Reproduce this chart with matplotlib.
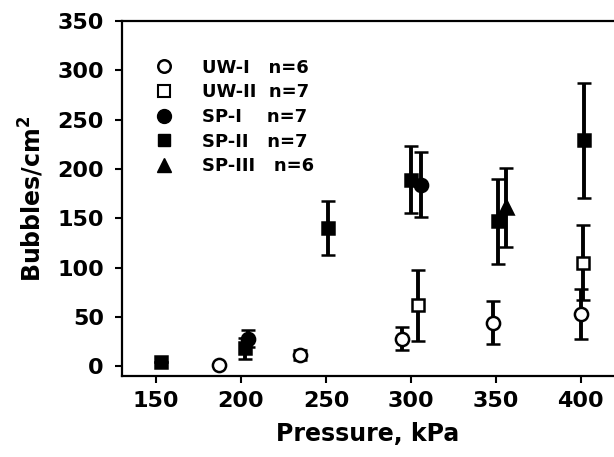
import numpy as np
import matplotlib
matplotlib.use('Agg')
import matplotlib.pyplot as plt
from matplotlib.lines import Line2D

# group data: x (pressure, plotted with small offsets), mean, error
uw1_x = [187, 235, 294.5, 348.5, 400]
uw1_y = [1, 11, 28, 44, 53]
uw1_e = [0, 5, 12, 22, 25]

uw2_x = [304, 401]
uw2_y = [62, 105]
uw2_e = [36, 38]

sp1_x = [204, 306]
sp1_y = [28, 184]
sp1_e = [9, 33]

sp2_x = [153, 202.5, 251.5, 300, 351.5, 402]
sp2_y = [4, 18, 140, 189, 147, 229]
sp2_e = [0, 11, 27, 34, 43, 58]

sp3_x = [356]
sp3_y = [161]
sp3_e = [40]

labels = ['UW-I   n=6', 'UW-II  n=7', 'SP-I    n=7', 'SP-II   n=7', 'SP-III   n=6']
xticks = [150, 200, 250, 300, 350, 400]
yticks = [0, 50, 100, 150, 200, 250, 300, 350]

plt.rcParams['font.family'] = 'DejaVu Sans'
plt.rcParams['font.weight'] = 'bold'

fig = plt.figure(figsize=(6.14, 4.57), dpi=100)
ax = fig.add_axes([0.1987, 0.1772, 0.8013, 0.7768])

ebkw = dict(ecolor='black', elinewidth=2.8, capsize=5, capthick=2.8,
            linestyle='none', markeredgecolor='black', markeredgewidth=1.8)

ax.errorbar(uw1_x, uw1_y, yerr=uw1_e, marker='o', markersize=9.5,
            markerfacecolor='white', **ebkw)
ax.errorbar(uw2_x, uw2_y, yerr=uw2_e, marker='s', markersize=9,
            markerfacecolor='white', **ebkw)
ax.errorbar(sp1_x, sp1_y, yerr=sp1_e, marker='o', markersize=9.5,
            markerfacecolor='black', **ebkw)
ax.errorbar(sp2_x, sp2_y, yerr=sp2_e, marker='s', markersize=9,
            markerfacecolor='black', **ebkw)
ax.errorbar(sp3_x, sp3_y, yerr=sp3_e, marker='^', markersize=9.5,
            markerfacecolor='black', **ebkw)

handles = [
    Line2D([], [], linestyle='none', marker='o', markersize=9, markerfacecolor='white',
           markeredgecolor='black', markeredgewidth=1.8),
    Line2D([], [], linestyle='none', marker='s', markersize=8.5, markerfacecolor='white',
           markeredgecolor='black', markeredgewidth=1.5),
    Line2D([], [], linestyle='none', marker='o', markersize=10, color='black'),
    Line2D([], [], linestyle='none', marker='s', markersize=9, color='black'),
    Line2D([], [], linestyle='none', marker='^', markersize=9.5, color='black'),
]
ax.legend(handles, labels, loc='upper left', bbox_to_anchor=(0.035, 0.94),
          frameon=False, handlelength=1.0, handletextpad=1.6,
          labelspacing=0.37, prop={'size': 13, 'weight': 'bold'})

ax.set_xlim(130, 419.5)
ax.set_ylim(-10, 350)
ax.set_xticks(xticks)
ax.set_yticks(yticks)
ax.tick_params(axis='both', direction='out', length=5, width=1.5, labelsize=16)
ax.tick_params(axis='y', pad=8)
ax.tick_params(axis='x', pad=6)
for s in ['left', 'bottom', 'top']:
    ax.spines[s].set_linewidth(1.6)
ax.spines['right'].set_visible(False)

ax.set_xlabel('Pressure, kPa', fontsize=17, fontweight='bold', labelpad=8)
ax.set_ylabel('Bubbles/cm$^\\mathbf{2}$', fontsize=17, fontweight='bold', labelpad=8)

fig.savefig('out.png', dpi=100)
